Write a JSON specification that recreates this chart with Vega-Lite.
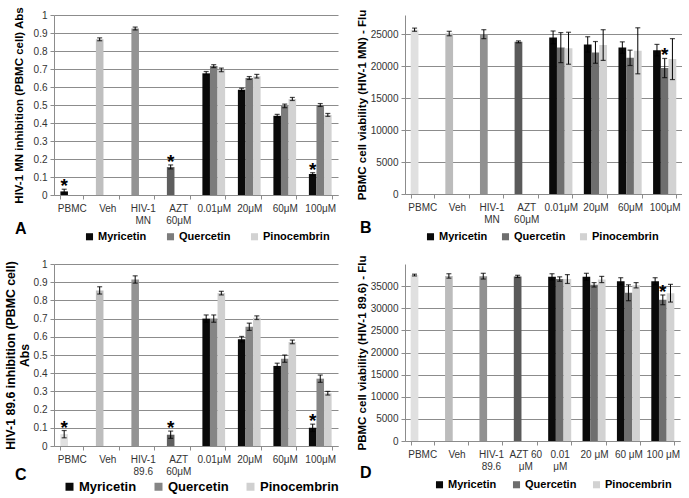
{
  "$schema": "https://vega.github.io/schema/vega-lite/v6.json",
  "padding": {"left": 4, "top": 6, "right": 0, "bottom": 0},
  "background": "white",
  "config": {
    "font": "Liberation Sans",
    "view": {"stroke": null},
    "axis": {"gridColor": "#8c8c8c", "domainColor": "#8c8c8c", "tickColor": "#8c8c8c", "labelColor": "#333333", "labelFontSize": 10, "titleColor": "#000000", "titleFontWeight": "bold", "titleFontSize": 11.5},
    "axisX": {"labelAngle": 0, "tickBand": "extent", "tickSize": 4, "labelPadding": 4, "labelLineHeight": 12, "title": null, "grid": false},
    "axisY": {"tickSize": 4, "labelPadding": 3, "titlePadding": 6, "grid": true, "labelOverlap": false},
    "legend": {"orient": "none", "direction": "horizontal", "title": null, "symbolType": "square", "symbolStrokeWidth": 0, "labelFontWeight": "bold", "labelFontSize": 11, "labelColor": "#000000", "columnPadding": 18, "symbolSize": 50, "labelOffset": 3, "padding": 0},
    "title": {"fontSize": 16, "fontWeight": "bold", "orient": "bottom", "anchor": "start", "frame": "group", "color": "#000000"}
  },
  "columns": 2,
  "bounds": "flush",
  "spacing": {"row": 69, "column": 67},
  "resolve": {"scale": {"color": "independent", "x": "independent", "y": "independent", "xOffset": "independent"}, "legend": {"color": "independent"}},
  "concat": [
    {
      "title": {"text": "A", "offset": -21, "dx": -39},
      "width": 284, "height": 180,
      "resolve": {"axis": {"y": "independent"}},
      "data": {"values": [
        {"cat": "PBMC", "compound": "Myricetin", "series": "PBMC", "value": 0.02, "lo": 0.01, "hi": 0.032, "sig": "*"},
        {"cat": "Veh", "compound": "Myricetin", "series": "Veh", "value": 0.865, "lo": 0.857, "hi": 0.873, "sig": ""},
        {"cat": "HIV-1 MN", "compound": "Myricetin", "series": "HIV-1 MN", "value": 0.925, "lo": 0.917, "hi": 0.933, "sig": ""},
        {"cat": "AZT 60μM", "compound": "Myricetin", "series": "AZT", "value": 0.155, "lo": 0.145, "hi": 0.167, "sig": "*"},
        {"cat": "0.01μM", "compound": "Myricetin", "series": "Myricetin", "value": 0.676, "lo": 0.668, "hi": 0.686, "sig": ""},
        {"cat": "0.01μM", "compound": "Quercetin", "series": "Quercetin", "value": 0.716, "lo": 0.708, "hi": 0.724, "sig": ""},
        {"cat": "0.01μM", "compound": "Pinocembrin", "series": "Pinocembrin", "value": 0.695, "lo": 0.685, "hi": 0.705, "sig": ""},
        {"cat": "20μM", "compound": "Myricetin", "series": "Myricetin", "value": 0.585, "lo": 0.577, "hi": 0.593, "sig": ""},
        {"cat": "20μM", "compound": "Quercetin", "series": "Quercetin", "value": 0.65, "lo": 0.642, "hi": 0.658, "sig": ""},
        {"cat": "20μM", "compound": "Pinocembrin", "series": "Pinocembrin", "value": 0.66, "lo": 0.65, "hi": 0.67, "sig": ""},
        {"cat": "60μM", "compound": "Myricetin", "series": "Myricetin", "value": 0.44, "lo": 0.432, "hi": 0.448, "sig": ""},
        {"cat": "60μM", "compound": "Quercetin", "series": "Quercetin", "value": 0.495, "lo": 0.485, "hi": 0.505, "sig": ""},
        {"cat": "60μM", "compound": "Pinocembrin", "series": "Pinocembrin", "value": 0.534, "lo": 0.525, "hi": 0.542, "sig": ""},
        {"cat": "100μM", "compound": "Myricetin", "series": "Myricetin", "value": 0.116, "lo": 0.108, "hi": 0.124, "sig": "*"},
        {"cat": "100μM", "compound": "Quercetin", "series": "Quercetin", "value": 0.5, "lo": 0.492, "hi": 0.508, "sig": ""},
        {"cat": "100μM", "compound": "Pinocembrin", "series": "Pinocembrin", "value": 0.445, "lo": 0.437, "hi": 0.453, "sig": ""}
      ]},
      "encoding": {
        "x": {"field": "cat", "type": "nominal", "sort": ["PBMC", "Veh", "HIV-1 MN", "AZT 60μM", "0.01μM", "20μM", "60μM", "100μM"], "scale": {"paddingInner": 0.36, "paddingOuter": 0.18}, "axis": {"labelExpr": "split(datum.label, ' ')"}},
        "xOffset": {"field": "compound", "type": "nominal", "scale": {"domain": ["Myricetin", "Quercetin", "Pinocembrin"], "paddingInner": 0}}
      },
      "layer": [
        {"mark": {"type": "bar"}, "encoding": {
          "y": {"field": "value", "type": "quantitative", "scale": {"domain": [0, 1]}, "axis": {"values": [0, 0.1, 0.2, 0.3, 0.4, 0.5, 0.6, 0.7, 0.8, 0.9, 1], "format": "~g", "title": "HIV-1 MN inhibition (PBMC cell) Abs", "titlePadding": 9}},
          "color": {"field": "series", "type": "nominal", "scale": {"domain": ["Myricetin", "Quercetin", "Pinocembrin", "PBMC", "Veh", "HIV-1 MN", "AZT"], "range": ["#0a0a0a", "#7c7c7c", "#d2d2d2", "#0a0a0a", "#bfbfbf", "#939393", "#5e5e5e"]}, "legend": {"values": ["Myricetin", "Quercetin", "Pinocembrin"], "legendX": 30, "legendY": 216}}
        }},
        {"mark": {"type": "rule", "color": "#000000", "strokeWidth": 1}, "encoding": {"y": {"field": "lo", "type": "quantitative", "axis": null}, "y2": {"field": "hi"}}},
        {"mark": {"type": "tick", "color": "#000000", "thickness": 1.2, "size": 5}, "encoding": {"y": {"field": "lo", "type": "quantitative", "axis": null}}},
        {"mark": {"type": "tick", "color": "#000000", "thickness": 1.2, "size": 5}, "encoding": {"y": {"field": "hi", "type": "quantitative", "axis": null}}},
        {"transform": [{"filter": "datum.sig != ''"}], "mark": {"type": "text", "fontSize": 19, "fontWeight": "bold", "baseline": "alphabetic", "dy": 3, "color": "#000000"}, "encoding": {"y": {"field": "hi", "type": "quantitative", "axis": null}, "text": {"field": "sig"}}}
      ]
    },
    {
      "title": {"text": "B", "offset": -22, "dx": -45},
      "width": 277, "height": 179,
      "resolve": {"axis": {"y": "independent"}},
      "data": {"values": [
        {"cat": "PBMC", "compound": "Myricetin", "series": "PBMC", "value": 25700, "lo": 25450, "hi": 25950, "sig": ""},
        {"cat": "Veh", "compound": "Myricetin", "series": "Veh", "value": 25100, "lo": 24750, "hi": 25450, "sig": ""},
        {"cat": "HIV-1 MN", "compound": "Myricetin", "series": "HIV-1 MN", "value": 25000, "lo": 24300, "hi": 25700, "sig": ""},
        {"cat": "AZT 60μM", "compound": "Myricetin", "series": "AZT", "value": 23800, "lo": 23650, "hi": 23950, "sig": ""},
        {"cat": "0.01μM", "compound": "Myricetin", "series": "Myricetin", "value": 24500, "lo": 23500, "hi": 25500, "sig": ""},
        {"cat": "0.01μM", "compound": "Quercetin", "series": "Quercetin", "value": 22900, "lo": 20550, "hi": 25250, "sig": ""},
        {"cat": "0.01μM", "compound": "Pinocembrin", "series": "Pinocembrin", "value": 22800, "lo": 20300, "hi": 25300, "sig": ""},
        {"cat": "20μM", "compound": "Myricetin", "series": "Myricetin", "value": 23400, "lo": 22200, "hi": 24600, "sig": ""},
        {"cat": "20μM", "compound": "Quercetin", "series": "Quercetin", "value": 22150, "lo": 20450, "hi": 23850, "sig": ""},
        {"cat": "20μM", "compound": "Pinocembrin", "series": "Pinocembrin", "value": 23300, "lo": 20900, "hi": 25700, "sig": ""},
        {"cat": "60μM", "compound": "Myricetin", "series": "Myricetin", "value": 22900, "lo": 22000, "hi": 23800, "sig": ""},
        {"cat": "60μM", "compound": "Quercetin", "series": "Quercetin", "value": 21300, "lo": 20100, "hi": 22500, "sig": ""},
        {"cat": "60μM", "compound": "Pinocembrin", "series": "Pinocembrin", "value": 22400, "lo": 18800, "hi": 26000, "sig": ""},
        {"cat": "100μM", "compound": "Myricetin", "series": "Myricetin", "value": 22500, "lo": 21600, "hi": 23400, "sig": ""},
        {"cat": "100μM", "compound": "Quercetin", "series": "Quercetin", "value": 19700, "lo": 18200, "hi": 21200, "sig": "*"},
        {"cat": "100μM", "compound": "Pinocembrin", "series": "Pinocembrin", "value": 21100, "lo": 17900, "hi": 24300, "sig": ""}
      ]},
      "encoding": {
        "x": {"field": "cat", "type": "nominal", "sort": ["PBMC", "Veh", "HIV-1 MN", "AZT 60μM", "0.01μM", "20μM", "60μM", "100μM"], "scale": {"paddingInner": 0.33, "paddingOuter": 0.165}, "axis": {"labelExpr": "split(datum.label, ' ')"}},
        "xOffset": {"field": "compound", "type": "nominal", "scale": {"domain": ["Myricetin", "Quercetin", "Pinocembrin"], "paddingInner": 0}}
      },
      "layer": [
        {"mark": {"type": "bar"}, "encoding": {
          "y": {"field": "value", "type": "quantitative", "scale": {"domain": [0, 28000]}, "axis": {"values": [0, 5000, 10000, 15000, 20000, 25000], "format": "d", "title": "PBMC cell viability (HIV-1 MN) - Flu", "titlePadding": 3}},
          "color": {"field": "series", "type": "nominal", "scale": {"domain": ["Myricetin", "Quercetin", "Pinocembrin", "PBMC", "Veh", "HIV-1 MN", "AZT"], "range": ["#0a0a0a", "#6e6e6e", "#d2d2d2", "#e0e0e0", "#bcbcbc", "#919191", "#5a5a5a"]}, "legend": {"values": ["Myricetin", "Quercetin", "Pinocembrin"], "legendX": 20, "legendY": 216, "columnPadding": 12}}
        }},
        {"mark": {"type": "rule", "color": "#000000", "strokeWidth": 1}, "encoding": {"y": {"field": "lo", "type": "quantitative", "axis": null}, "y2": {"field": "hi"}}},
        {"mark": {"type": "tick", "color": "#000000", "thickness": 1.2, "size": 5}, "encoding": {"y": {"field": "lo", "type": "quantitative", "axis": null}}},
        {"mark": {"type": "tick", "color": "#000000", "thickness": 1.2, "size": 5}, "encoding": {"y": {"field": "hi", "type": "quantitative", "axis": null}}},
        {"transform": [{"filter": "datum.sig != ''"}], "mark": {"type": "text", "fontSize": 19, "fontWeight": "bold", "baseline": "alphabetic", "dy": 3, "color": "#000000"}, "encoding": {"y": {"field": "hi", "type": "quantitative", "axis": null}, "text": {"field": "sig"}}}
      ]
    },
    {
      "title": {"text": "C", "offset": -27, "dx": -39},
      "width": 284, "height": 182,
      "resolve": {"axis": {"y": "independent"}},
      "data": {"values": [
        {"cat": "PBMC", "compound": "Myricetin", "series": "PBMC", "value": 0.065, "lo": 0.045, "hi": 0.085, "sig": "*"},
        {"cat": "Veh", "compound": "Myricetin", "series": "Veh", "value": 0.855, "lo": 0.835, "hi": 0.875, "sig": ""},
        {"cat": "HIV-1 89.6", "compound": "Myricetin", "series": "HIV-1 89.6", "value": 0.915, "lo": 0.895, "hi": 0.935, "sig": ""},
        {"cat": "AZT 60μM", "compound": "Myricetin", "series": "AZT", "value": 0.062, "lo": 0.042, "hi": 0.082, "sig": "*"},
        {"cat": "0.01μM", "compound": "Myricetin", "series": "Myricetin", "value": 0.7, "lo": 0.68, "hi": 0.72, "sig": ""},
        {"cat": "0.01μM", "compound": "Quercetin", "series": "Quercetin", "value": 0.7, "lo": 0.68, "hi": 0.72, "sig": ""},
        {"cat": "0.01μM", "compound": "Pinocembrin", "series": "Pinocembrin", "value": 0.84, "lo": 0.83, "hi": 0.85, "sig": ""},
        {"cat": "20μM", "compound": "Myricetin", "series": "Myricetin", "value": 0.587, "lo": 0.572, "hi": 0.602, "sig": ""},
        {"cat": "20μM", "compound": "Quercetin", "series": "Quercetin", "value": 0.655, "lo": 0.635, "hi": 0.675, "sig": ""},
        {"cat": "20μM", "compound": "Pinocembrin", "series": "Pinocembrin", "value": 0.705, "lo": 0.695, "hi": 0.715, "sig": ""},
        {"cat": "60μM", "compound": "Myricetin", "series": "Myricetin", "value": 0.44, "lo": 0.425, "hi": 0.455, "sig": ""},
        {"cat": "60μM", "compound": "Quercetin", "series": "Quercetin", "value": 0.48, "lo": 0.46, "hi": 0.5, "sig": ""},
        {"cat": "60μM", "compound": "Pinocembrin", "series": "Pinocembrin", "value": 0.572, "lo": 0.562, "hi": 0.582, "sig": ""},
        {"cat": "100μM", "compound": "Myricetin", "series": "Myricetin", "value": 0.1, "lo": 0.08, "hi": 0.12, "sig": "*"},
        {"cat": "100μM", "compound": "Quercetin", "series": "Quercetin", "value": 0.37, "lo": 0.35, "hi": 0.39, "sig": ""},
        {"cat": "100μM", "compound": "Pinocembrin", "series": "Pinocembrin", "value": 0.29, "lo": 0.28, "hi": 0.3, "sig": ""}
      ]},
      "encoding": {
        "x": {"field": "cat", "type": "nominal", "sort": ["PBMC", "Veh", "HIV-1 89.6", "AZT 60μM", "0.01μM", "20μM", "60μM", "100μM"], "scale": {"paddingInner": 0.36, "paddingOuter": 0.18}, "axis": {"labelExpr": "split(datum.label, ' ')"}},
        "xOffset": {"field": "compound", "type": "nominal", "scale": {"domain": ["Myricetin", "Quercetin", "Pinocembrin"], "paddingInner": 0}}
      },
      "layer": [
        {"mark": {"type": "bar"}, "encoding": {
          "y": {"field": "value", "type": "quantitative", "scale": {"domain": [0, 1]}, "axis": {"values": [0, 0.1, 0.2, 0.3, 0.4, 0.5, 0.6, 0.7, 0.8, 0.9, 1], "format": "~g", "title": ["HIV-1 89.6 inhibition (PBMC cell)", "Abs"], "titleFontSize": 12.3, "titleLineHeight": 14, "titlePadding": 2}},
          "color": {"field": "series", "type": "nominal", "scale": {"domain": ["Myricetin", "Quercetin", "Pinocembrin", "PBMC", "Veh", "HIV-1 89.6", "AZT"], "range": ["#0a0a0a", "#858585", "#d0d0d0", "#e0e0e0", "#bdbdbd", "#939393", "#606060"]}, "legend": {"values": ["Myricetin", "Quercetin", "Pinocembrin"], "labelFontSize": 13, "symbolSize": 64, "columnPadding": 15, "legendX": 9, "legendY": 216}}
        }},
        {"mark": {"type": "rule", "color": "#000000", "strokeWidth": 1}, "encoding": {"y": {"field": "lo", "type": "quantitative", "axis": null}, "y2": {"field": "hi"}}},
        {"mark": {"type": "tick", "color": "#000000", "thickness": 1.2, "size": 5}, "encoding": {"y": {"field": "lo", "type": "quantitative", "axis": null}}},
        {"mark": {"type": "tick", "color": "#000000", "thickness": 1.2, "size": 5}, "encoding": {"y": {"field": "hi", "type": "quantitative", "axis": null}}},
        {"transform": [{"filter": "datum.sig != ''"}], "mark": {"type": "text", "fontSize": 19, "fontWeight": "bold", "baseline": "alphabetic", "dy": 3, "color": "#000000"}, "encoding": {"y": {"field": "hi", "type": "quantitative", "axis": null}, "text": {"field": "sig"}}}
      ]
    },
    {
      "title": {"text": "D", "offset": -25, "dx": -45},
      "width": 275, "height": 177,
      "resolve": {"axis": {"y": "independent"}},
      "data": {"values": [
        {"cat": "PBMC", "compound": "Myricetin", "series": "PBMC", "value": 37500, "lo": 37300, "hi": 37700, "sig": ""},
        {"cat": "Veh", "compound": "Myricetin", "series": "Veh", "value": 37300, "lo": 36800, "hi": 37800, "sig": ""},
        {"cat": "HIV-1 89.6", "compound": "Myricetin", "series": "HIV-1 89.6", "value": 37250, "lo": 36600, "hi": 37900, "sig": ""},
        {"cat": "AZT 60 μM", "compound": "Myricetin", "series": "AZT", "value": 37200, "lo": 36950, "hi": 37450, "sig": ""},
        {"cat": "0.01 μM", "compound": "Myricetin", "series": "Myricetin", "value": 37100, "lo": 36400, "hi": 37800, "sig": ""},
        {"cat": "0.01 μM", "compound": "Quercetin", "series": "Quercetin", "value": 36600, "lo": 36100, "hi": 37100, "sig": ""},
        {"cat": "0.01 μM", "compound": "Pinocembrin", "series": "Pinocembrin", "value": 36600, "lo": 35600, "hi": 37600, "sig": ""},
        {"cat": "20 μM", "compound": "Myricetin", "series": "Myricetin", "value": 37100, "lo": 36300, "hi": 37900, "sig": ""},
        {"cat": "20 μM", "compound": "Quercetin", "series": "Quercetin", "value": 35300, "lo": 34800, "hi": 35800, "sig": ""},
        {"cat": "20 μM", "compound": "Pinocembrin", "series": "Pinocembrin", "value": 36500, "lo": 35800, "hi": 37200, "sig": ""},
        {"cat": "60 μM", "compound": "Myricetin", "series": "Myricetin", "value": 36100, "lo": 35300, "hi": 36900, "sig": ""},
        {"cat": "60 μM", "compound": "Quercetin", "series": "Quercetin", "value": 33500, "lo": 31700, "hi": 35300, "sig": ""},
        {"cat": "60 μM", "compound": "Pinocembrin", "series": "Pinocembrin", "value": 35200, "lo": 34600, "hi": 35800, "sig": ""},
        {"cat": "100 μM", "compound": "Myricetin", "series": "Myricetin", "value": 36100, "lo": 35300, "hi": 36900, "sig": ""},
        {"cat": "100 μM", "compound": "Quercetin", "series": "Quercetin", "value": 31900, "lo": 30800, "hi": 33000, "sig": "*"},
        {"cat": "100 μM", "compound": "Pinocembrin", "series": "Pinocembrin", "value": 33400, "lo": 31400, "hi": 35400, "sig": ""}
      ]},
      "encoding": {
        "x": {"field": "cat", "type": "nominal", "sort": ["PBMC", "Veh", "HIV-1 89.6", "AZT 60 μM", "0.01 μM", "20 μM", "60 μM", "100 μM"], "scale": {"paddingInner": 0.33, "paddingOuter": 0.165}, "axis": {"labelExpr": "datum.label == 'HIV-1 89.6' ? ['HIV-1', '89.6'] : datum.label == 'AZT 60 μM' ? ['AZT 60', 'μM'] : datum.label == '0.01 μM' ? ['0.01', 'μM'] : datum.label"}},
        "xOffset": {"field": "compound", "type": "nominal", "scale": {"domain": ["Myricetin", "Quercetin", "Pinocembrin"], "paddingInner": 0}}
      },
      "layer": [
        {"mark": {"type": "bar"}, "encoding": {
          "y": {"field": "value", "type": "quantitative", "scale": {"domain": [0, 38000]}, "axis": {"values": [0, 5000, 10000, 15000, 20000, 25000, 30000, 35000], "format": "d", "title": "PBMC cell viability (HIV-1 89.6) - Flu", "titlePadding": 3}},
          "color": {"field": "series", "type": "nominal", "scale": {"domain": ["Myricetin", "Quercetin", "Pinocembrin", "PBMC", "Veh", "HIV-1 89.6", "AZT"], "range": ["#0a0a0a", "#6e6e6e", "#d2d2d2", "#e0e0e0", "#bcbcbc", "#919191", "#5a5a5a"]}, "legend": {"values": ["Myricetin", "Quercetin", "Pinocembrin"], "legendX": 29, "legendY": 215, "columnPadding": 14}}
        }},
        {"mark": {"type": "rule", "color": "#000000", "strokeWidth": 1}, "encoding": {"y": {"field": "lo", "type": "quantitative", "axis": null}, "y2": {"field": "hi"}}},
        {"mark": {"type": "tick", "color": "#000000", "thickness": 1.2, "size": 5}, "encoding": {"y": {"field": "lo", "type": "quantitative", "axis": null}}},
        {"mark": {"type": "tick", "color": "#000000", "thickness": 1.2, "size": 5}, "encoding": {"y": {"field": "hi", "type": "quantitative", "axis": null}}},
        {"transform": [{"filter": "datum.sig != ''"}], "mark": {"type": "text", "fontSize": 19, "fontWeight": "bold", "baseline": "alphabetic", "dy": 3, "color": "#000000"}, "encoding": {"y": {"field": "hi", "type": "quantitative", "axis": null}, "text": {"field": "sig"}}}
      ]
    }
  ]
}
